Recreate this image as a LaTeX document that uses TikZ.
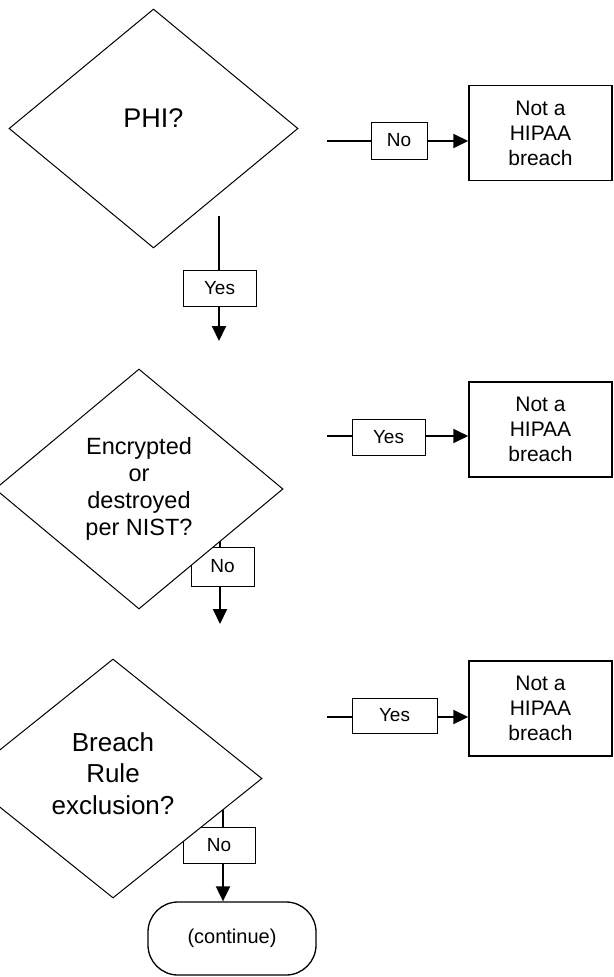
\documentclass[tikz,border=0pt]{standalone}
\usepackage{fontspec}
\setmainfont{Liberation Sans}
\usetikzlibrary{shapes.geometric,arrows.meta}
\pgfdeclarelayer{bg}
\pgfsetlayers{bg,main}
\tikzset{
  decision/.style={shape=diamond,draw,fill=white,line width=1pt,inner sep=0pt,align=center},
  lbl/.style={draw,fill=white,line width=1pt,inner sep=0pt,font=\fontsize{19}{22}\selectfont},
  outbox/.style={draw,fill=white,line width=1.5pt,inner sep=0pt,minimum width=143pt,minimum height=95pt,align=center,font=\fontsize{21}{25}\selectfont},
  conn/.style={line width=2pt},
  arr/.style={line width=2pt,-{Triangle[length=15pt,width=14pt]}},
  term/.style={draw,fill=white,line width=1.3pt,rounded corners=30pt,minimum width=168pt,minimum height=73pt,inner sep=0pt,font=\fontsize{20}{24}\selectfont}
}
\begin{document}
\begin{tikzpicture}[x=1pt,y=-1pt]
\useasboundingbox (0,0) rectangle (613,977);
% label boxes (below diamonds)
\node[lbl,minimum width=56pt,minimum height=37pt] (L1) at (399,140.5) {No};
\node[lbl,minimum width=73pt,minimum height=36pt] (L2) at (388.5,437) {Yes};
\node[lbl,minimum width=85pt,minimum height=35pt] (L3) at (394.5,715.5) {Yes};
\node[lbl,minimum width=73pt,minimum height=36pt] (V1) at (219.5,288) {Yes};
\node[lbl,minimum width=63pt,minimum height=39pt] (V2) at (222.5,566.5) {No};
\node[lbl,minimum width=72pt,minimum height=36pt] (V3) at (219,845) {No};
% decisions
\node[decision,minimum width=289pt,minimum height=239pt,font=\fontsize{27}{32}\selectfont] (D1) at (153.5,128.5) {PHI?\rule[-20pt]{0pt}{20pt}};
\node[decision,minimum width=288pt,minimum height=240pt,font=\fontsize{23.5}{27}\selectfont] (D2) at (139,489) {Encrypted\\or\\destroyed\\per NIST?};
\node[decision,minimum width=298pt,minimum height=239pt,font=\fontsize{26}{31.5}\selectfont] (D3) at (113,778.5) {Breach\\Rule\\exclusion?\rule[-10pt]{0pt}{10pt}};
% outcomes
\node[outbox] (T1) at (540.5,133) {Not a\\HIPAA\\breach};
\node[outbox] (T2) at (540.5,429.5) {Not a\\HIPAA\\breach};
\node[outbox] (T3) at (540.5,708.5) {Not a\\HIPAA\\breach};
\node[term] (C) at (232,938.5) {(continue)};
% free ends
\coordinate (r1) at (327,141);
\coordinate (r2) at (327,436);
\coordinate (r3) at (327,717);
\coordinate (v1) at (219,216);
\coordinate (e1) at (219,341);
\coordinate (v2) at (220,530);
\coordinate (e2) at (220,624);
\coordinate (v3) at (223,800);
\begin{pgfonlayer}{bg}
\draw[conn] (r1) -- (r1 -| L1.west);
\draw[arr] (r1 -| L1.east) -- (r1 -| T1.west);
\draw[conn] (r2) -- (r2 -| L2.west);
\draw[arr] (r2 -| L2.east) -- (r2 -| T2.west);
\draw[conn] (r3) -- (r3 -| L3.west);
\draw[arr] (r3 -| L3.east) -- (r3 -| T3.west);
\draw[conn] (v1) -- (v1 |- V1.north);
\draw[arr] (v1 |- V1.south) -- (e1);
\draw[conn] (v2) -- (v2 |- V2.north);
\draw[arr] (v2 |- V2.south) -- (e2);
\draw[conn] (v3) -- (v3 |- V3.north);
\draw[arr] (v3 |- V3.south) -- (v3 |- C.north);
\end{pgfonlayer}
\end{tikzpicture}
\end{document}
